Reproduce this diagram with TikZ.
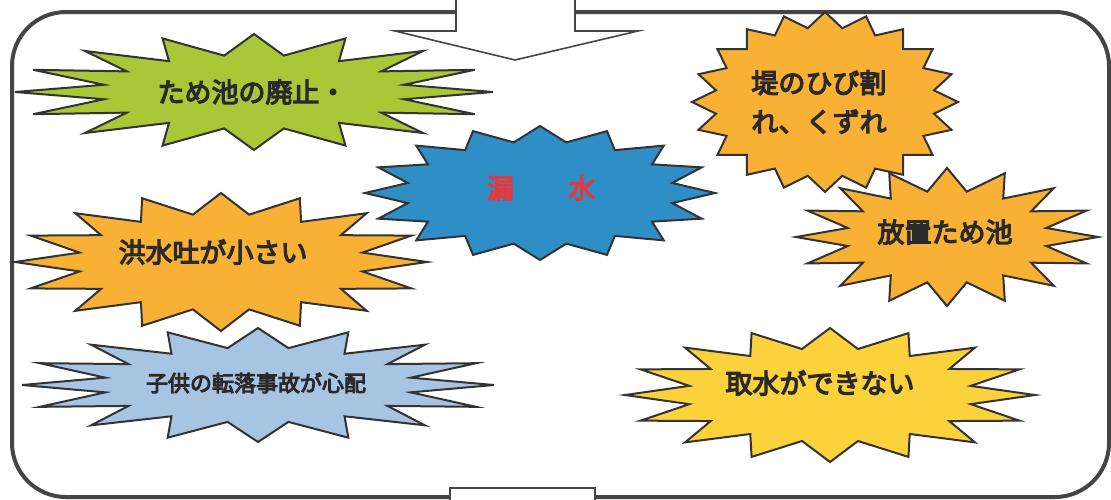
\documentclass[tikz,border=0pt]{standalone}
\usepackage{fontspec}
\newfontfamily\jp[FakeBold=4.5]{Noto Sans CJK JP}
\definecolor{framegray}{HTML}{454545}
\definecolor{burstdraw}{HTML}{333333}
\definecolor{textdark}{HTML}{2A2A2A}
\definecolor{gfill}{HTML}{ABC636}
\definecolor{ofill}{HTML}{F8B135}
\definecolor{yfill}{HTML}{FCD23C}
\definecolor{bfill}{HTML}{2F8EC6}
\definecolor{lbfill}{HTML}{A8C4E3}
\definecolor{redtext}{HTML}{E5383D}
\tikzset{
  burstline/.style={draw=burstdraw, line width=1pt, line join=miter},
  lbl/.style={font=\jp\fontsize{13.5}{16}\selectfont, text=textdark, inner sep=0pt},
  frame/.style={draw=framegray, line width=2pt, rounded corners=27pt},
  arrowline/.style={draw=framegray, line width=0.8pt, fill=white, line join=miter}
}
% #1 cx, #2 cy, #3 a, #4 b, #5 points, #6 inner ratio, #7 fill colour
\newcommand{\burstshape}[7]{%
  \begin{scope}[shift={(#1,#2)}]
    \pgfmathsetmacro\bst{360/#5}
    \draw[burstline, fill=#7] (0:#3 and #4)
      \foreach \k in {1,...,#5}{ -- ({(\k-0.5)*\bst}:{#6*#3} and {#6*#4}) -- ({\k*\bst}:#3 and #4) } -- cycle;
  \end{scope}}
\begin{document}
\begin{tikzpicture}[x=0.5pt,y=-0.5pt]
\useasboundingbox (0,0) rectangle (1111,499);
% frame
\draw[frame] (575,12) -- (1109,12) -- (1109,497) -- (12,497) -- (12,12) -- (456,12);
% incoming arrow at top
\draw[arrowline] (456,-5) -- (456,31) -- (395,31) -- (515,60) -- (638,31) -- (575,31) -- (575,-5);
% outgoing shaft at bottom
\draw[arrowline] (450,510) -- (450,488) -- (595,488) -- (595,510);
% bursts
\burstshape{254}{92}{239}{58}{16}{0.64}{gfill}
\node[lbl] (t1) at (252,92) {ため池の廃止・};
\burstshape{825}{102}{133}{90}{20}{0.83}{ofill}
\node[lbl, anchor=west, align=left, font=\jp\fontsize{13.5}{19.5}\selectfont] (t2) at (751,102) {堤のひび割\\れ、くずれ};
\burstshape{540}{193}{175}{67}{16}{0.77}{bfill}
\node[lbl, text=redtext] (t3) at (541,188) {漏\hspace{2em}水};
\burstshape{947}{237}{151}{69}{16}{0.67}{ofill}
\node[lbl] (t4) at (945,232) {放置ため池};
\burstshape{221}{262}{206}{69}{16}{0.7}{ofill}
\node[lbl] (t5) at (213,252) {洪水吐が小さい};
\burstshape{258}{385}{236}{57}{16}{0.66}{lbfill}
\node[lbl, font=\jp\fontsize{11}{13}\selectfont] (t6) at (256,383) {子供の転落事故が心配};
\burstshape{830}{395}{205}{67}{16}{0.7}{yfill}
\node[lbl] (t7) at (820,383) {取水ができない};
\end{tikzpicture}
\end{document}
